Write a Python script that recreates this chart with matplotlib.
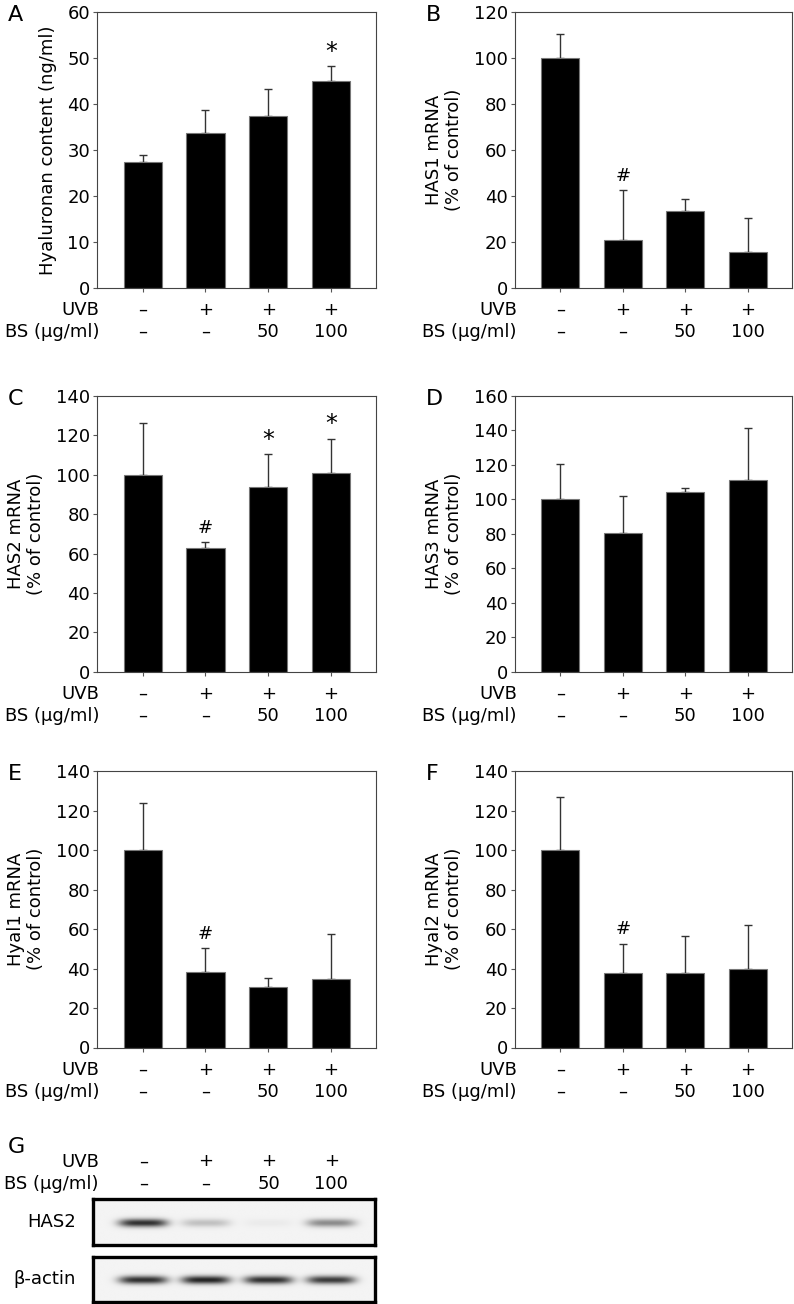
import numpy as np
import matplotlib
matplotlib.use("Agg")
import matplotlib.pyplot as plt

plt.rcParams['font.family'] = ['DejaVu Sans']
plt.rcParams['font.size'] = 13

# groups
uvb = ['\u2013', '+', '+', '+']
bs = ['\u2013', '\u2013', '50', '100']

# panel data (mean, upper SD)
hyaluronan = [27.3, 33.8, 37.5, 45.1]
hyaluronan_err = [1.6, 4.8, 5.7, 3.1]
has1 = [100, 20.9, 33.3, 15.7]
has1_err = [10.6, 21.6, 5.3, 14.7]
has2 = [100, 62.7, 93.8, 100.9]
has2_err = [26.5, 3.1, 16.6, 17.3]
has3 = [100, 80.4, 104.1, 111.0]
has3_err = [20.5, 21.6, 2.3, 30.5]
hyal1 = [100, 38.4, 30.5, 34.9]
hyal1_err = [23.8, 11.8, 4.9, 22.7]
hyal2 = [100, 37.7, 37.7, 39.7]
hyal2_err = [27.0, 14.7, 18.9, 22.2]

# significance marks
sig_a = ['', '', '', '*']
sig_b = ['', '#', '', '']
sig_c = ['', '#', '*', '*']
sig_d = ['', '', '', '']
sig_e = ['', '#', '', '']
sig_f = ['', '#', '', '']

# western blot band intensity (relative darkness)
has2_band = [0.85, 0.22, 0.04, 0.45]
actin_band = [0.85, 0.9, 0.85, 0.8]

W, H = 794, 1304
FS = 13
fig = plt.figure(figsize=(W / 100, H / 100), dpi=100)

def rect(x0, y0, x1, y1):
    return [x0 / W, 1 - y1 / H, (x1 - x0) / W, (y1 - y0) / H]

x = np.arange(4)
XLIM = (-0.73, 3.72)

def bar_panel(r, vals, errs, sig, ymax, ystep, ylabel, letter, lab_x):
    ax = fig.add_axes(r)
    ax.bar(x, vals, width=0.61, color='black', edgecolor='#777777', linewidth=0.8, zorder=2)
    ax.errorbar(x, vals, yerr=[np.zeros(4), errs], fmt='none', ecolor='#333333',
                elinewidth=1, capsize=3, capthick=1, zorder=1)
    for xi, v, e, s in zip(x, vals, errs, sig):
        if s:
            fs = 17 if s == '*' else 13
            off = 2 if s == '*' else 4
            ax.annotate(s, (xi, v + e), xytext=(0, off), textcoords='offset points',
                        ha='center', va='bottom', fontsize=fs)
    ax.set_xlim(*XLIM)
    ax.set_ylim(0, ymax)
    ax.set_yticks(np.arange(0, ymax + 1, ystep))
    ax.set_xticks(x)
    ax.set_xticklabels([])
    ax.tick_params(direction='out', length=3, width=0.8, color='#555555', labelsize=FS, pad=2)
    for sp in ax.spines.values():
        sp.set_linewidth(0.8)
        sp.set_color('#444444')
    ax.set_ylabel(ylabel, fontsize=FS, linespacing=1.2)
    ax.yaxis.set_label_coords(lab_x, 0.5)
    tr = ax.get_xaxis_transform()
    ax.text(0.008, -0.08, 'UVB', transform=ax.transAxes, ha='right', va='center', fontsize=FS)
    ax.text(0.008, -0.16, 'BS (\u03bcg/ml)', transform=ax.transAxes, ha='right', va='center', fontsize=FS)
    for xi, u, b in zip(x, uvb, bs):
        ax.text(xi, -0.08, u, transform=tr, ha='center', va='center', fontsize=FS)
        ax.text(xi, -0.16, b, transform=tr, ha='center', va='center', fontsize=FS)
    fig.text(r[0] - 89 / W, r[1] + r[3] - 3 / H, letter, fontsize=16, ha='left', va='center')
    return ax

LX0, LX1 = 97, 376
RX0, RX1 = 514.7, 792.5
rows = [(12, 288), (396, 671.7), (771, 1047.5)]

bar_panel(rect(LX0, rows[0][0], LX1, rows[0][1]), hyaluronan, hyaluronan_err, sig_a, 60, 10,
          'Hyaluronan content (ng/ml)', 'A', -0.143)
bar_panel(rect(RX0, rows[0][0], RX1, rows[0][1]), has1, has1_err, sig_b, 120, 20,
          'HAS1 mRNA\n(% of control)', 'B', -0.185)
bar_panel(rect(LX0, rows[1][0], LX1, rows[1][1]), has2, has2_err, sig_c, 140, 20,
          'HAS2 mRNA\n(% of control)', 'C', -0.185)
bar_panel(rect(RX0, rows[1][0], RX1, rows[1][1]), has3, has3_err, sig_d, 160, 20,
          'HAS3 mRNA\n(% of control)', 'D', -0.185)
bar_panel(rect(LX0, rows[2][0], LX1, rows[2][1]), hyal1, hyal1_err, sig_e, 140, 20,
          'Hyal1 mRNA\n(% of control)', 'E', -0.185)
bar_panel(rect(RX0, rows[2][0], RX1, rows[2][1]), hyal2, hyal2_err, sig_f, 140, 20,
          'Hyal2 mRNA\n(% of control)', 'F', -0.185)

# panel G: western blot
BX = (-0.80, 3.70)

def blot(r, bands, name, width=0.39):
    ax = fig.add_axes(r)
    xs = np.linspace(BX[0], BX[1], 600)
    ys = np.linspace(0, 1, 100)
    X, Y = np.meshgrid(xs, ys)
    img = np.full(X.shape, 0.05)
    for i, b in enumerate(bands):
        img += b * np.exp(-((X - i) / width) ** 4) * np.exp(-((Y - 0.52) / 0.09) ** 2)
    ax.imshow(img, extent=(BX[0], BX[1], 0, 1), aspect='auto', cmap='gray_r',
              vmin=0, vmax=1.1, interpolation='bilinear')
    ax.set_xlim(*BX)
    ax.set_ylim(0, 1)
    ax.set_xticks([])
    ax.set_yticks([])
    for sp in ax.spines.values():
        sp.set_linewidth(2.4)
        sp.set_color('black')
    ax.text(-0.06, 0.5, name, transform=ax.transAxes, ha='right', va='center', fontsize=FS)
    return ax

g1 = blot(rect(93, 1199, 375, 1245), has2_band, 'HAS2')
blot(rect(93, 1257, 375, 1302), actin_band, '\u03b2-actin')

# header rows above the blot
for xi, u, b in zip(x, uvb, bs):
    g1.annotate(u, (xi, 1), xycoords=('data', 'axes fraction'), xytext=(0, 27),
                textcoords='offset points', ha='center', va='center', fontsize=FS)
    g1.annotate(b, (xi, 1), xycoords=('data', 'axes fraction'), xytext=(0, 11),
                textcoords='offset points', ha='center', va='center', fontsize=FS)
fig.text(99 / W, 1 - 1162 / H, 'UVB', ha='right', va='center', fontsize=FS)
fig.text(99 / W, 1 - 1184 / H, 'BS (\u03bcg/ml)', ha='right', va='center', fontsize=FS)
fig.text(8 / W, 1 - 1147 / H, 'G', ha='left', va='center', fontsize=16)

fig.savefig('out.png', dpi=100)
